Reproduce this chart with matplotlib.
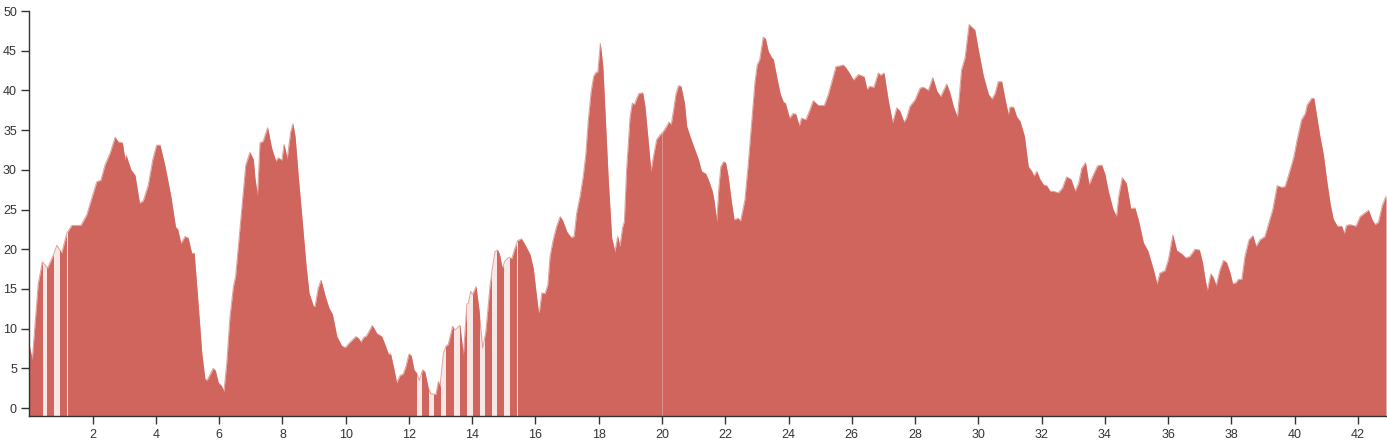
import matplotlib
matplotlib.use("Agg")
import matplotlib.pyplot as plt

plt.rcParams['font.family'] = ['Liberation Sans', 'DejaVu Sans']

# distance (km) and elevation
dist = [0.00, 0.09, 0.28, 0.41, 0.50, 0.57, 0.76, 0.87, 1.02, 1.18, 1.34, 1.63, 1.81,
        2.13, 2.26, 2.39, 2.55, 2.71, 2.81, 2.94, 3.02, 3.06, 3.21, 3.34, 3.48, 3.60,
        3.76, 3.90, 4.02, 4.13, 4.29, 4.47, 4.62, 4.69, 4.79, 4.92, 5.02, 5.13, 5.21,
        5.34, 5.45, 5.55, 5.62, 5.81, 5.88, 5.97, 6.07, 6.15, 6.24, 6.34, 6.45, 6.52,
        6.71, 6.84, 6.97, 7.08, 7.13, 7.21, 7.29, 7.39, 7.53, 7.66, 7.79, 7.87, 7.98,
        8.05, 8.15, 8.26, 8.33, 8.40, 8.50, 8.64, 8.75, 8.84, 8.98, 9.03, 9.13, 9.22,
        9.35, 9.47, 9.58, 9.72, 9.87, 9.98, 10.14, 10.32, 10.40, 10.48, 10.57, 10.66,
        10.84, 10.98, 11.14, 11.22, 11.35, 11.42, 11.51, 11.61, 11.72, 11.82, 11.90,
        12.00, 12.07, 12.16, 12.24, 12.33, 12.43, 12.50, 12.61, 12.70, 12.85, 12.93,
        12.98, 13.09, 13.17, 13.24, 13.38, 13.45, 13.61, 13.72, 13.83, 13.88, 13.95,
        14.01, 14.12, 14.22, 14.33, 14.43, 14.56, 14.63, 14.72, 14.80, 14.86, 14.95,
        15.03, 15.16, 15.25, 15.33, 15.44, 15.56, 15.69, 15.83, 15.93, 16.02, 16.09,
        16.12, 16.20, 16.30, 16.39, 16.46, 16.56, 16.67, 16.78, 16.86, 16.99, 17.12,
        17.22, 17.30, 17.41, 17.51, 17.59, 17.67, 17.76, 17.84, 17.92, 17.97, 18.05,
        18.13, 18.20, 18.30, 18.41, 18.51, 18.60, 18.67, 18.75, 18.81, 18.88, 18.99,
        19.06, 19.13, 19.20, 19.27, 19.39, 19.46, 19.55, 19.65, 19.73, 19.83, 19.94,
        20.04, 20.15, 20.22, 20.29, 20.36, 20.44, 20.52, 20.60, 20.71, 20.78, 20.92,
        21.04, 21.15, 21.25, 21.38, 21.46, 21.59, 21.65, 21.73, 21.80, 21.86, 21.94,
        22.01, 22.09, 22.20, 22.28, 22.41, 22.48, 22.62, 22.73, 22.84, 22.94, 23.01,
        23.09, 23.20, 23.27, 23.36, 23.47, 23.52, 23.63, 23.74, 23.84, 23.90, 24.03,
        24.15, 24.23, 24.34, 24.41, 24.55, 24.68, 24.78, 24.94, 25.13, 25.26, 25.37,
        25.50, 25.63, 25.73, 25.82, 25.92, 26.05, 26.21, 26.39, 26.48, 26.56, 26.70,
        26.84, 26.91, 27.02, 27.15, 27.29, 27.42, 27.52, 27.65, 27.73, 27.84, 28.00,
        28.16, 28.26, 28.42, 28.56, 28.69, 28.81, 29.00, 29.10, 29.21, 29.34, 29.47,
        29.58, 29.65, 29.71, 29.78, 29.89, 30.00, 30.16, 30.32, 30.43, 30.53, 30.63,
        30.74, 30.84, 30.95, 31.00, 31.11, 31.21, 31.32, 31.46, 31.58, 31.69, 31.76,
        31.85, 31.95, 32.06, 32.16, 32.27, 32.37, 32.53, 32.66, 32.79, 32.93, 33.06,
        33.17, 33.27, 33.39, 33.50, 33.64, 33.77, 33.90, 34.00, 34.11, 34.26, 34.37,
        34.44, 34.55, 34.68, 34.82, 34.95, 35.06, 35.22, 35.36, 35.53, 35.65, 35.74,
        35.90, 36.01, 36.15, 36.27, 36.43, 36.56, 36.69, 36.85, 36.99, 37.09, 37.17,
        37.24, 37.35, 37.43, 37.52, 37.64, 37.75, 37.85, 37.96, 38.04, 38.15, 38.22,
        38.33, 38.43, 38.56, 38.68, 38.78, 38.91, 39.06, 39.17, 39.31, 39.45, 39.59,
        39.70, 39.86, 39.98, 40.07, 40.22, 40.34, 40.40, 40.54, 40.61, 40.70, 40.80,
        40.91, 41.01, 41.12, 41.22, 41.35, 41.49, 41.57, 41.64, 41.75, 41.94, 42.07,
        42.23, 42.34, 42.44, 42.54, 42.65, 42.77, 42.89]
elev = [7.8, 6.1, 15.7, 18.4, 18.0, 17.6, 19.3, 20.5, 19.5, 22.0, 23.0, 23.0, 24.3,
        28.5, 28.7, 30.6, 32.1, 34.1, 33.5, 33.4, 31.3, 31.8, 30.0, 29.3, 25.8, 26.1,
        28.1, 31.3, 33.1, 33.1, 30.4, 26.7, 22.8, 22.5, 20.7, 21.6, 21.4, 19.5, 19.5,
        12.8, 6.9, 3.65, 3.5, 5.0, 4.7, 3.2, 2.8, 2.1, 5.7, 11.5, 15.3, 16.6,
        25.0, 30.6, 32.2, 31.3, 29.0, 26.7, 33.4, 33.6, 35.3, 32.7, 31.1, 31.5, 31.2,
        33.2, 31.4, 34.8, 35.8, 34.2, 29.2, 22.9, 17.8, 14.5, 12.8, 12.8, 15.1, 16.1,
        14.1, 12.6, 11.8, 9.0, 7.85, 7.6, 8.3, 9.0, 8.8, 8.3, 8.9, 9.1,
        10.4, 9.4, 9.0, 8.2, 6.8, 6.8, 5.2, 3.2, 4.1, 4.3, 5.2,
        6.8, 6.6, 4.8, 4.4, 3.5, 4.8, 4.6, 2.5, 1.8, 1.7, 3.35,
        2.7, 6.9, 7.8, 8.0, 10.3, 9.8, 10.4, 6.6, 13.1, 13.2, 14.7,
        14.3, 15.3, 12.2, 7.55, 9.6, 15.3, 17.4, 19.7, 19.9, 19.4, 17.6,
        18.5, 19.0, 18.8, 19.9, 21.1, 21.3, 20.4, 19.3, 17.6, 14.5, 12.2,
        12.0, 14.5, 14.4, 15.5, 19.1, 21.2, 22.9, 24.1, 23.6, 22.2, 21.5,
        21.6, 24.5, 26.7, 29.2, 31.9, 36.3, 39.9, 41.8, 42.3, 42.3, 45.9,
        43.0, 37.2, 28.8, 21.4, 19.7, 21.6, 20.3, 22.7, 23.5, 30.0, 36.7,
        38.4, 38.2, 39.0, 39.6, 39.7, 38.0, 34.2, 29.8, 31.7, 33.8, 34.4,
        34.8, 35.5, 36.0, 35.7, 37.4, 39.5, 40.6, 40.5, 38.4, 35.5, 33.8,
        32.5, 31.3, 29.8, 29.5, 28.8, 27.3, 26.0, 23.5, 27.9, 30.4, 31.0,
        30.9, 29.2, 25.8, 23.7, 23.9, 23.5, 26.2, 30.9, 36.3, 41.1, 43.2,
        43.9, 46.7, 46.5, 44.9, 44.1, 43.9, 41.6, 39.5, 38.5, 38.4, 36.5,
        37.1, 37.0, 35.5, 36.5, 36.3, 37.6, 38.7, 38.1, 38.1, 39.5, 41.1,
        43.0, 43.1, 43.2, 42.8, 42.2, 41.3, 42.0, 41.7, 40.1, 40.5, 40.4,
        42.2, 41.9, 42.2, 38.8, 35.9, 37.8, 37.4, 36.0, 36.5, 38.0, 38.8,
        40.3, 40.4, 40.0, 41.6, 39.9, 39.2, 40.8, 39.7, 38.0, 36.6, 42.6,
        44.1, 46.4, 48.3, 48.0, 47.6, 45.1, 41.8, 39.5, 38.9, 39.6, 41.1,
        41.1, 39.0, 36.9, 37.9, 37.9, 36.7, 36.1, 34.2, 30.4, 29.8, 29.2,
        29.8, 28.8, 28.1, 28.0, 27.3, 27.3, 27.1, 27.7, 29.1, 28.8, 27.3,
        28.3, 30.2, 30.9, 28.1, 29.4, 30.5, 30.6, 29.5, 27.3, 25.0, 24.1,
        26.7, 29.0, 28.3, 25.1, 25.2, 23.7, 20.8, 19.8, 17.5, 15.6, 17.0,
        17.3, 18.7, 21.8, 19.85, 19.4, 18.9, 19.1, 20.0, 19.9, 18.3, 16.2,
        14.8, 16.9, 16.4, 15.4, 17.4, 18.6, 18.3, 17.0, 15.65, 15.8, 16.2,
        16.2, 19.1, 21.2, 21.7, 20.35, 21.2, 21.6, 23.1, 25.0, 28.0, 27.8,
        27.9, 30.0, 31.7, 33.6, 36.3, 37.1, 38.2, 39.0, 39.0, 36.7, 34.2,
        31.9, 28.8, 25.8, 23.8, 22.9, 22.9, 21.95, 23.0, 23.1, 22.9, 24.1,
        24.6, 24.9, 23.8, 23.1, 23.4, 25.5, 26.7]

# stretches with no data (drawn pale)
gap_start = [0.44, 0.79, 1.19, 12.25, 12.64, 13.00, 13.43, 13.84, 14.25, 14.62, 15.00, 15.41, 19.99]
gap_end = [0.57, 0.96, 1.22, 12.41, 12.79, 13.18, 13.61, 14.01, 14.41, 14.77, 15.18, 15.45, 20.02]

red = '#cf655c'

fig = plt.figure(figsize=(13.87, 4.43), dpi=100)
ax = fig.add_axes([29.4 / 1387, 27 / 443, (1386 - 29.4) / 1387, 405 / 443])

ax.fill_between(dist, elev, -1, color=red, lw=0)
for a, b in zip(gap_start, gap_end):
    # the gap near km 20 is only a faint seam in the original
    ax.axvspan(a, b, color='white', alpha=0.3 if a > 19 else 0.85, lw=0)
ax.plot(dist, elev, color=red, lw=0.7, alpha=0.6)

ax.set_xlim(0, 42.89)
ax.set_ylim(-1, 50)
ax.set_xticks(range(2, 43, 2))
ax.set_yticks(range(0, 51, 5))

for s in ['top', 'right']:
    ax.spines[s].set_visible(False)
for s in ['left', 'bottom']:
    ax.spines[s].set_color('#333333')
    ax.spines[s].set_linewidth(1)
ax.tick_params(direction='out', length=6, width=1, color='#333333',
               labelcolor='#333333', labelsize=9, pad=3)

fig.savefig('out.png', dpi=100)
